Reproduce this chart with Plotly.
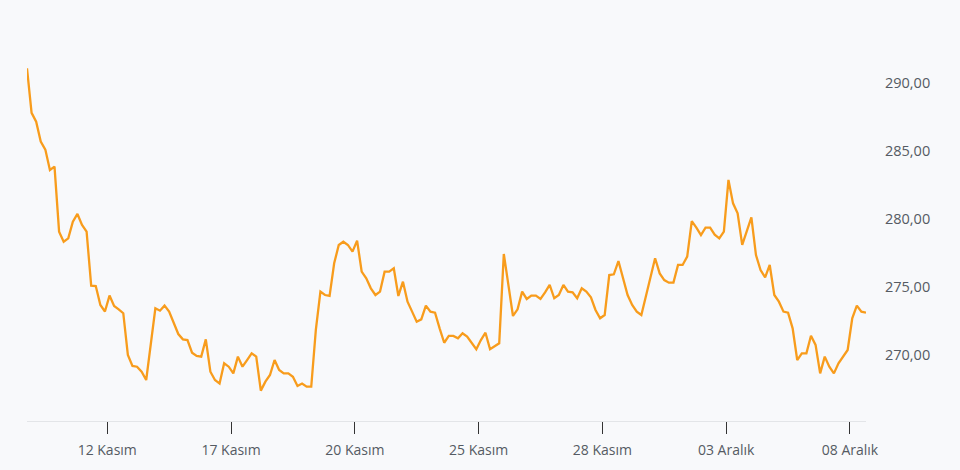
import plotly.graph_objects as go

# hourly prices, Nov 10 - Dec 8 (trading days only)
prices = [
    291.08, 287.80, 287.15, 285.70, 285.10, 283.60, 283.85, 279.07, 278.33, 278.58,
    279.80, 280.37, 279.56, 279.07, 275.10, 275.07, 273.68, 273.20, 274.37, 273.60,
    273.36, 273.07, 270.00, 269.20, 269.14, 268.77, 268.16, 270.70, 273.43, 273.26,
    273.63, 273.20, 272.33, 271.54, 271.15, 271.10, 270.17, 269.93, 269.88, 271.15,
    268.77, 268.16, 267.90, 269.39, 269.14, 268.65, 269.88, 269.14, 269.63, 270.12,
    269.88, 267.38, 268.04, 268.53, 269.63, 268.90, 268.65, 268.65, 268.40, 267.72,
    267.90, 267.67, 267.67, 271.84, 274.66, 274.41, 274.34, 276.74, 278.09, 278.33,
    278.09, 277.60, 278.41, 276.13, 275.64, 274.90, 274.41, 274.66, 276.13, 276.13,
    276.37, 274.34, 275.39, 273.92, 273.19, 272.45, 272.62, 273.63, 273.19, 273.11,
    271.96, 270.90, 271.40, 271.40, 271.23, 271.60, 271.35, 270.90, 270.42, 271.10,
    271.64, 270.42, 270.66, 270.86, 277.43, 275.20, 272.87, 273.36, 274.66, 274.12,
    274.37, 274.37, 274.12, 274.60, 275.15, 274.17, 274.41, 275.15, 274.66, 274.61,
    274.17, 274.90, 274.66, 274.24, 273.31, 272.70, 272.94, 275.88, 275.93, 276.91,
    275.64, 274.41, 273.68, 273.19, 272.94, 274.29, 275.76, 277.11, 276.00, 275.51,
    275.32, 275.32, 276.62, 276.62, 277.23, 279.85, 279.36, 278.82, 279.36, 279.36,
    278.85, 278.58, 279.07, 282.87, 281.15, 280.42, 278.09, 279.19, 280.12, 277.35,
    276.25, 275.71, 276.62, 274.41, 273.92, 273.19, 273.11, 271.96, 269.63, 270.12,
    270.12, 271.42, 270.74, 268.65, 269.88, 269.14, 268.65, 269.39, 269.88, 270.37,
    272.70, 273.63, 273.19, 273.11,
]

tick_labels = ["12 Kasım", "17 Kasım", "20 Kasım", "25 Kasım", "28 Kasım", "03 Aralık", "08 Aralık"]
points_per_day = 9
tick_pos = [17.5 + 3 * points_per_day * i for i in range(len(tick_labels))]

bg = "#f8f9fb"

fig = go.Figure()

fig.add_trace(
    go.Scatter(x=list(range(len(prices))), y=prices, mode="lines", name="Fiyat",
               line=dict(color="#f89c1c", width=2.3), hoverinfo="y"
    )
)

# page body adds an 8px margin, so the figure is a bit smaller than the window
fig.update_layout(
    width=952, height=462,
    margin=dict(l=19, r=94, t=32, b=49),
    paper_bgcolor=bg, plot_bgcolor=bg,
    showlegend=False,
    separators=",.",
    font=dict(family="Open Sans, Noto Sans, sans-serif", size=14, color="#555b63"),
)

fig.update_xaxes(
    range=[0, len(prices) - 1],
    tickvals=tick_pos, ticktext=tick_labels,
    showgrid=False, zeroline=False,
    showline=True, linecolor="#e3e5e8", linewidth=1,
    ticks="outside", ticklen=12, tickcolor="#333333", tickwidth=1,
    ticklabelstandoff=4,
    tickfont=dict(size=14, color="#555b63"),
)

fig.update_yaxes(
    side="right",
    range=[265.147, 293.16],
    tickvals=[270, 275, 280, 285, 290],
    tickformat=".2f",
    showgrid=False, zeroline=False, showline=False,
    ticks="", ticklabelstandoff=18,
    tickfont=dict(size=14.5, color="#555b63"),
)

fig.write_html("out.html", post_script="document.body.style.background='%s';" % bg)
